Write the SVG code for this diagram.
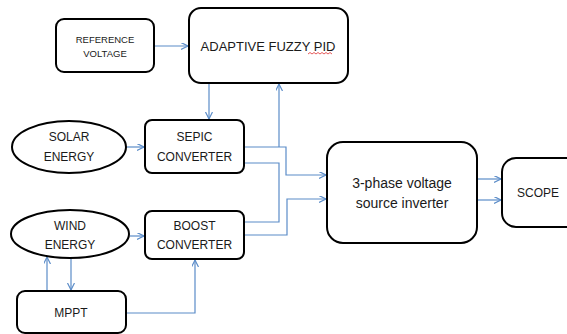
<svg xmlns="http://www.w3.org/2000/svg" width="567" height="334" viewBox="0 0 567 334">
<style>
.box{fill:#fff;stroke:#000;stroke-width:2}
.t{font-family:"Liberation Sans",Arial,sans-serif;font-size:12px;fill:#1a1a1a;text-anchor:middle;dominant-baseline:central}
.s{font-size:9.5px}
.m{font-size:13px}
.l{font-size:14px}
.c{fill:none;stroke:#5b8cc8;stroke-width:1.2}
</style>
<defs>
<marker id="a" markerUnits="userSpaceOnUse" markerWidth="9" markerHeight="9" refX="7" refY="3.5" orient="auto">
<path d="M0,0 L7,3.5 L0,7" fill="none" stroke="#5b8cc8" stroke-width="1.2"/>
</marker>
</defs>
<rect width="567" height="334" fill="#fff"/>
<g id="connectors">
<path class="c" d="M154,46 H188" marker-end="url(#a)"/>
<path class="c" d="M209,83 V119" marker-end="url(#a)"/>
<path class="c" d="M279,147 V84" marker-end="url(#a)"/>
<path class="c" d="M244,147 H286 V175 H326" marker-end="url(#a)"/>
<path class="c" d="M244,163 H279 V222 H244"/>
<path class="c" d="M244,235 H287 V199 H326" marker-end="url(#a)"/>
<path class="c" d="M126,147 H144" marker-end="url(#a)"/>
<path class="c" d="M130,236 H144" marker-end="url(#a)"/>
<path class="c" d="M47,291 V257" marker-end="url(#a)"/>
<path class="c" d="M71,258 V290" marker-end="url(#a)"/>
<path class="c" d="M126,313 H195 V260" marker-end="url(#a)"/>
<path class="c" d="M477,179 H501" marker-end="url(#a)"/>
<path class="c" d="M477,200 H501" marker-end="url(#a)"/>
</g>
<g id="ref">
<rect class="box" x="56" y="19" width="98" height="53" rx="8"/>
<text class="t s" x="105" y="39">REFERENCE</text>
<text class="t s" x="105" y="53">VOLTAGE</text>
</g>
<g id="pid">
<rect class="box" x="189" y="8" width="159" height="75" rx="12"/>
<text class="t m" x="268" y="46">ADAPTIVE FUZZY PID</text>
<path d="M308,54 l2,-1.5 l2,1.5 l2,-1.5 l2,1.5 l2,-1.5 l2,1.5 l2,-1.5 l2,1.5 l2,-1.5 l2,1.5 l2,-1.5 l2,1.5" fill="none" stroke="#e03030" stroke-width="0.8"/>
</g>
<g id="solar">
<ellipse class="box" cx="69" cy="147" rx="57" ry="26"/>
<text class="t" x="69" y="137">SOLAR</text>
<text class="t" x="69" y="157">ENERGY</text>
</g>
<g id="sepic">
<rect class="box" x="145" y="120" width="99" height="53" rx="7"/>
<text class="t" x="194.5" y="137">SEPIC</text>
<text class="t" x="194.5" y="157">CONVERTER</text>
</g>
<g id="wind">
<ellipse class="box" cx="70" cy="234" rx="59" ry="24"/>
<text class="t" x="70" y="226">WIND</text>
<text class="t" x="70" y="245">ENERGY</text>
</g>
<g id="boost">
<rect class="box" x="145" y="211" width="99" height="48" rx="7"/>
<text class="t" x="194.5" y="226">BOOST</text>
<text class="t" x="194.5" y="245">CONVERTER</text>
</g>
<g id="mppt">
<rect class="box" x="17" y="291" width="109" height="42" rx="8"/>
<text class="t" x="71" y="313">MPPT</text>
</g>
<g id="inverter">
<rect class="box" x="327" y="142" width="150" height="101" rx="16"/>
<text class="t l" x="402" y="183">3-phase voltage</text>
<text class="t l" x="402" y="203">source inverter</text>
</g>
<g id="scope">
<rect class="box" x="502" y="158" width="80" height="69" rx="14"/>
<text class="t" x="538" y="193">SCOPE</text>
</g>
</svg>
